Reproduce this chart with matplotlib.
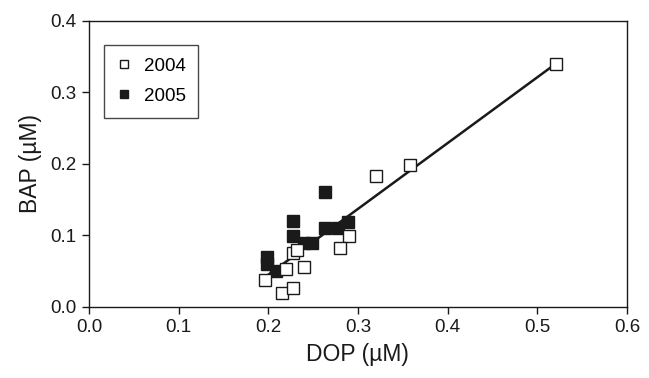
import numpy as np
import matplotlib.pyplot as plt

plt.rcParams['font.family'] = ['Liberation Sans', 'DejaVu Sans']

# 2004 samples (open squares)
dop_2004 = [0.521, 0.358, 0.320, 0.290, 0.280, 0.240, 0.228, 0.232, 0.220, 0.196, 0.215, 0.228]
bap_2004 = [0.340, 0.198, 0.183, 0.099, 0.082, 0.056, 0.076, 0.079, 0.053, 0.037, 0.020, 0.026]

# 2005 samples (filled squares)
dop_2005 = [0.263, 0.228, 0.228, 0.240, 0.249, 0.263, 0.278, 0.289, 0.199, 0.199, 0.209]
bap_2005 = [0.161, 0.120, 0.099, 0.090, 0.090, 0.110, 0.110, 0.119, 0.070, 0.060, 0.050]

# regression line
fit_slope = 0.92
fit_intercept = -0.139
fit_range = [0.197, 0.521]

fig = plt.figure(figsize=(6.49, 3.78), dpi=100)
ax = fig.add_axes([0.137, 0.188, 0.829, 0.757])

fx = np.array(fit_range)
ax.plot(fx, fit_slope * fx + fit_intercept, color='#1a1a1a', lw=1.8, zorder=1)

ax.plot(dop_2004, bap_2004, 's', ms=8, mfc='white', mec='#1a1a1a', mew=1.0,
        ls='none', label='2004', zorder=3)
ax.plot(dop_2005, bap_2005, 's', ms=8, mfc='#1a1a1a', mec='#1a1a1a', mew=1.0,
        ls='none', label='2005', zorder=2)

ax.set_xlim(0, 0.6)
ax.set_ylim(0, 0.4)
ax.set_xticks(np.arange(0, 0.61, 0.1))
ax.set_yticks(np.arange(0, 0.41, 0.1))
ax.xaxis.set_major_formatter(plt.FormatStrFormatter('%.1f'))
ax.yaxis.set_major_formatter(plt.FormatStrFormatter('%.1f'))
ax.tick_params(direction='out', length=5, width=1, labelsize=13.5, colors='#1a1a1a', pad=4)
for s in ax.spines.values():
    s.set_linewidth(1.0)
    s.set_color('#1a1a1a')

ax.set_xlabel('DOP (µM)', fontsize=16.5, color='#1a1a1a', labelpad=5)
ax.set_ylabel('BAP (µM)', fontsize=16.5, color='#1a1a1a', labelpad=6)

leg = ax.legend(loc='upper left', bbox_to_anchor=(0.028, 0.915), borderaxespad=0,
                fontsize=13.5, frameon=True, fancybox=False, edgecolor='#1a1a1a',
                handlelength=0.78, handletextpad=0.65, borderpad=0.68,
                labelspacing=0.68, markerscale=0.75)
leg.get_frame().set_linewidth(1.0)

fig.savefig('out.png', dpi=100)
